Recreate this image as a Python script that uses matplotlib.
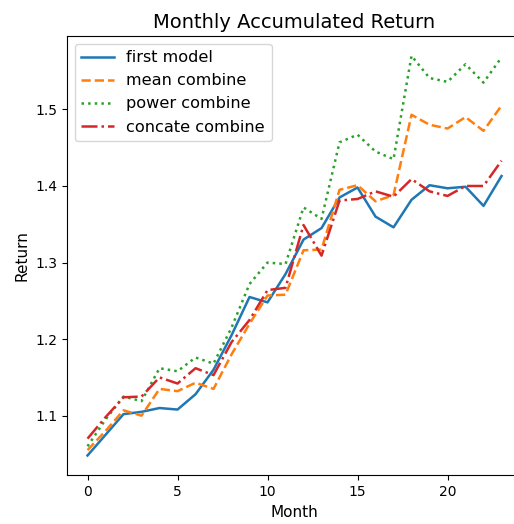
import numpy as np
import matplotlib.pyplot as plt

months = np.arange(24)

first_model = [1.048, 1.075, 1.102, 1.105, 1.110, 1.108, 1.128, 1.160, 1.205, 1.255,
               1.248, 1.285, 1.330, 1.345, 1.385, 1.398, 1.360, 1.346, 1.382, 1.401,
               1.397, 1.399, 1.374, 1.413]
mean_combine = [1.055, 1.080, 1.107, 1.100, 1.135, 1.132, 1.143, 1.135, 1.180, 1.220,
                1.257, 1.258, 1.316, 1.317, 1.395, 1.401, 1.380, 1.388, 1.493, 1.480,
                1.475, 1.490, 1.472, 1.505]
power_combine = [1.060, 1.095, 1.125, 1.119, 1.162, 1.158, 1.176, 1.168, 1.215, 1.272,
                 1.300, 1.298, 1.372, 1.357, 1.457, 1.467, 1.445, 1.435, 1.570, 1.541,
                 1.536, 1.559, 1.535, 1.568]
concate_combine = [1.070, 1.098, 1.124, 1.125, 1.150, 1.142, 1.162, 1.153, 1.196, 1.225,
                   1.264, 1.267, 1.349, 1.309, 1.381, 1.383, 1.393, 1.386, 1.409, 1.393,
                   1.387, 1.400, 1.400, 1.433]

fig = plt.figure(figsize=(5.14, 5.24), dpi=100)
ax = fig.add_axes([0.130, 0.0926, 0.886, 0.839])

ax.plot(months, first_model, '-', label='first model', linewidth=1.8)
ax.plot(months, mean_combine, '--', label='mean combine', linewidth=1.8)
ax.plot(months, power_combine, ':', label='power combine', linewidth=1.8)
ax.plot(months, concate_combine, '-.', label='concate combine', linewidth=1.8)
ax.set_xlim(-1.15, 24.15)

ax.set_title('Monthly Accumulated Return', fontsize=14)
ax.set_xlabel('Month', fontsize=11)
ax.set_ylabel('Return', fontsize=11)
ax.legend(loc='upper left', fontsize=11.6)

fig.savefig('out.png', dpi=100)
